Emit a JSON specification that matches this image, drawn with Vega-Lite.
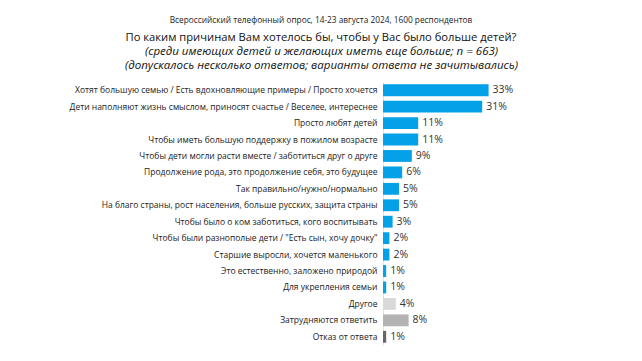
{
  "$schema": "https://vega.github.io/schema/vega-lite/v6.json",
  "autosize": "none",
  "width": 160,
  "height": 263,
  "padding": {"left": 383, "top": 82, "right": 99, "bottom": 16},
  "background": "white",
  "config": {"view": {"stroke": null}, "font": "Open Sans"},
  "title": {
    "text": "Всероссийский телефонный опрос, 14-23 августа 2024, 1600 респондентов",
    "subtitle": "По каким причинам Вам хотелось бы, чтобы у Вас было больше детей?",
    "frame": "group",
    "anchor": "middle",
    "dx": -142,
    "fontSize": 8.3,
    "fontWeight": "normal",
    "color": "#222222",
    "subtitleFontSize": 11.2,
    "subtitleColor": "#111111",
    "subtitlePadding": 8,
    "offset": 2,
    "font": "Open Sans",
    "subtitleFont": "Open Sans"
  },
  "data": {
    "values": [
      {"label": "Хотят большую семью / Есть вдохновляющие примеры / Просто хочется", "value": 0.33, "group": "main"},
      {"label": "Дети наполняют жизнь смыслом, приносят счастье / Веселее, интереснее", "value": 0.31, "group": "main"},
      {"label": "Просто любят детей", "value": 0.11, "group": "main"},
      {"label": "Чтобы иметь большую поддержку в пожилом возрасте", "value": 0.11, "group": "main"},
      {"label": "Чтобы дети могли расти вместе / заботиться друг о друге", "value": 0.09, "group": "main"},
      {"label": "Продолжение рода, это продолжение себя, это будущее", "value": 0.06, "group": "main"},
      {"label": "Так правильно/нужно/нормально", "value": 0.05, "group": "main"},
      {"label": "На благо страны, рост населения, больше русских, защита страны", "value": 0.05, "group": "main"},
      {"label": "Чтобы было о ком заботиться, кого воспитывать", "value": 0.03, "group": "main"},
      {"label": "Чтобы были разнополые дети / \"Есть сын, хочу дочку\"", "value": 0.02, "group": "main"},
      {"label": "Старшие выросли, хочется маленького", "value": 0.02, "group": "main"},
      {"label": "Это естественно, заложено природой", "value": 0.01, "group": "main"},
      {"label": "Для укрепления семьи", "value": 0.01, "group": "main"},
      {"label": "Другое", "value": 0.04, "group": "other"},
      {"label": "Затрудняются ответить", "value": 0.08, "group": "dk"},
      {"label": "Отказ от ответа", "value": 0.01, "group": "refuse"}
    ]
  },
  "encoding": {
    "y": {
      "field": "label",
      "type": "nominal",
      "sort": null,
      "scale": {"paddingInner": 0.28, "paddingOuter": 0.14},
      "axis": {
        "title": null,
        "ticks": false,
        "domainColor": "#e3e3e3",
        "domainWidth": 1,
        "labelFontSize": 8.5,
        "labelColor": "#222222",
        "labelPadding": 6,
        "labelLimit": 400,
        "labelFont": "Open Sans"
      }
    },
    "x": {
      "field": "value",
      "type": "quantitative",
      "scale": {"domain": [0, 0.5]},
      "axis": {
        "orient": "top",
        "labels": false,
        "ticks": false,
        "domain": false,
        "grid": false,
        "title": ["(среди имеющих детей и желающих иметь еще больше; n = 663)", "(допускалось несколько ответов; варианты ответа не зачитывались)"],
        "titleFontStyle": "italic",
        "titleFontWeight": "normal",
        "titleFontSize": 11.5,
        "titleColor": "#111111",
        "titleFont": "Open Sans",
        "titleX": -62,
        "titlePadding": 12,
        "titleLineHeight": 13.5
      }
    }
  },
  "layer": [
    {
      "mark": {"type": "bar"},
      "encoding": {
        "color": {
          "field": "group",
          "type": "nominal",
          "scale": {"domain": ["main", "other", "dk", "refuse"], "range": ["#05A1E8", "#D9D9D9", "#B3B3B3", "#666666"]},
          "legend": null
        }
      }
    },
    {
      "mark": {"type": "text", "align": "left", "baseline": "middle", "dx": 4, "fontSize": 10.5, "color": "#333333", "font": "Open Sans"},
      "encoding": {
        "text": {"field": "value", "type": "quantitative", "format": ".0%"}
      }
    }
  ]
}
